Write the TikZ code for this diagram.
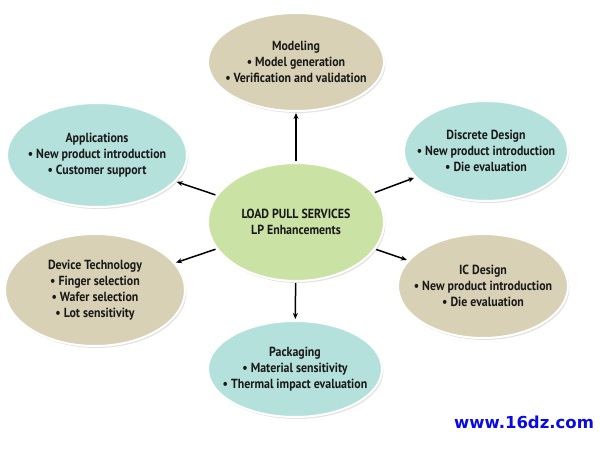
\documentclass[tikz,border=0pt]{standalone}
\usepackage{fontspec}
\setmainfont{PT Sans}
\newfontfamily\wmfont{DejaVu Sans}
\usetikzlibrary{shapes.geometric,arrows.meta,shadows}
\definecolor{beige}{RGB}{216,209,181}
\definecolor{teal}{RGB}{180,225,219}
\definecolor{lgreen}{RGB}{202,226,163}
\definecolor{wmblue}{RGB}{10,10,230}
\tikzset{
  bubble/.style={ellipse, draw=white, line width=2pt, inner sep=0pt,
    drop shadow={opacity=0.22, shadow xshift=1.5pt, shadow yshift=-2pt}},
  txt/.style={align=center, inner sep=0pt,
    font=\fontsize{13.2}{16}\selectfont\bfseries\addfontfeatures{FakeStretch=0.9},
    text=black!90},
  arr/.style={-{Stealth[length=6pt,width=5pt]}, line width=1.5pt, black, shorten <=1pt, shorten >=1pt}
}
\begin{document}
\begin{tikzpicture}[x=1pt,y=-1pt]
\useasboundingbox[fill=white] (0,0) rectangle (600,452);
\node[bubble, fill=lgreen, minimum width=176pt, minimum height=118pt] (lp) at (296,222) {};
\node[txt] (lpt) at (lp) {LOAD PULL SERVICES\\LP Enhancements};
\node[bubble, fill=beige, minimum width=176pt, minimum height=98pt] (mod) at (296,62) {};
\node[txt] (modt) at (mod) {Modeling\\• Model generation\\• Verification and validation};
\node[bubble, fill=teal, minimum width=180pt, minimum height=104pt] (app) at (97,155) {};
\node[txt] (appt) at (app) {Applications\\• New product introduction\\• Customer support};
\node[bubble, fill=teal, minimum width=164pt, minimum height=100pt] (dis) at (486,151) {};
\node[txt] (dist) at (dis) {Discrete Design\\• New product introduction\\• Die evaluation};
\node[bubble, fill=beige, minimum width=180pt, minimum height=112pt] (dev) at (95,290) {};
\node[txt] (devt) at (dev) {Device Technology\\• Finger selection\\• Wafer selection\\• Lot sensitivity};
\node[bubble, fill=beige, minimum width=170pt, minimum height=104pt] (ic) at (483,286) {};
\node[txt] (ict) at (ic) {IC Design\\• New product introduction\\• Die evaluation};
\node[bubble, fill=teal, minimum width=174pt, minimum height=96pt] (pkg) at (295,369) {};
\node[txt] (pkgt) at (pkg) {Packaging\\• Material sensitivity\\• Thermal impact evaluation};
\draw[arr] (lp) -- (mod);
\draw[arr] (lp) -- (app);
\draw[arr] (lp) -- (dis);
\draw[arr] (lp) -- (dev);
\draw[arr] (lp) -- (ic);
\draw[arr] (lp) -- (pkg);
\node[font=\wmfont\bfseries\fontsize{16.5}{19}\selectfont, text=wmblue] (wm) at (524,422) {www.16dz.com};
\end{tikzpicture}
\end{document}
